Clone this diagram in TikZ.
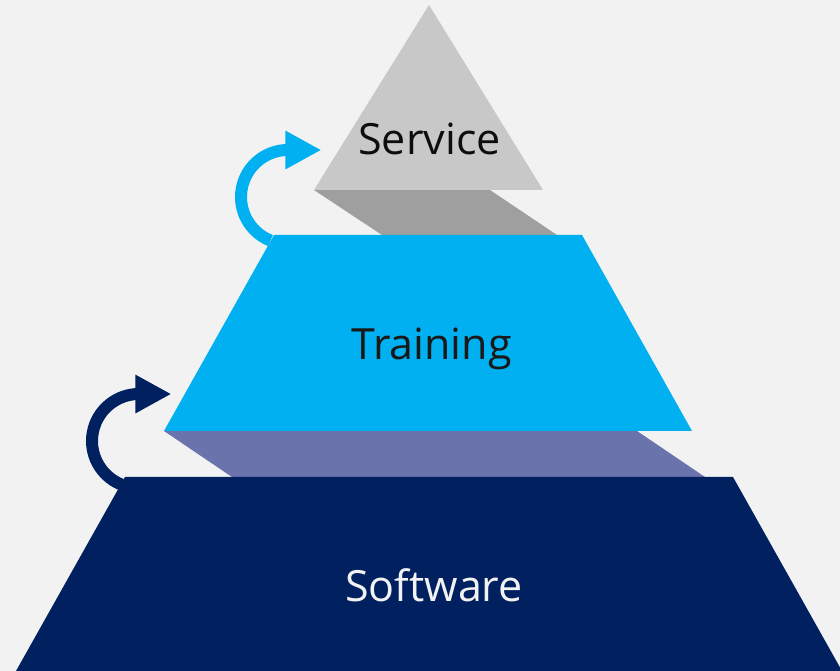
\documentclass[tikz,border=0pt]{standalone}
\usepackage{fontspec}
\setmainfont{Open Sans}
\usetikzlibrary{arrows.meta}

\definecolor{bgcol}{HTML}{F2F2F2}
\definecolor{servicecol}{HTML}{C8C8C8}
\definecolor{serviceshade}{HTML}{9F9F9F}
\definecolor{trainingcol}{HTML}{00B0F0}
\definecolor{trainingshade}{HTML}{6B73AD}
\definecolor{softwarecol}{HTML}{002060}

\begin{document}
\begin{tikzpicture}[x=1pt,y=1pt,
  label/.style={font=\fontsize{43}{50}\selectfont,anchor=base,inner sep=0pt},
  steparrow/.style={line width=12pt,-{Triangle[length=36pt,width=36pt]}}]

% ( background, same size as the reference )
\useasboundingbox[fill=bgcol] (0,0) rectangle (840,671);

% ( the arrows go first, their lower ends hide behind the steps )
\draw[steparrow,trainingcol] (288,474) ++(248:47) arc[start angle=248,end angle=92,radius=47] -- ++(35,0);
\draw[steparrow,softwarecol] (139,230) ++(248:47) arc[start angle=248,end angle=92,radius=47] -- ++(34,0);

% ( top: Service )
\path[shape=coordinate]
(429,666) coordinate(s1) (314,481) coordinate(s2) (543,481) coordinate(s3)
(490,481) coordinate(s4) (557,436) coordinate(s5) (382,436) coordinate(s6);
\fill[serviceshade] (s2) -- (s4) -- (s5) -- (s6) -- cycle;
\fill[servicecol] (s1) -- (s2) -- (s3) -- cycle;

% ( middle: Training )
\path[shape=coordinate]
(274,436) coordinate(t1) (582,436) coordinate(t2)
(692,240) coordinate(t3) (164,240) coordinate(t4)
(637,240) coordinate(t5) (705,194) coordinate(t6) (232,194) coordinate(t7);
\fill[trainingshade] (t4) -- (t5) -- (t6) -- (t7) -- cycle;
\fill[trainingcol] (t1) -- (t2) -- (t3) -- (t4) -- cycle;

% ( bottom: Software )
\path[shape=coordinate]
(125,194) coordinate(w1) (733,194) coordinate(w2)
(842,0) coordinate(w3) (16,0) coordinate(w4);
\fill[softwarecol] (w1) -- (w2) -- (w3) -- (w4) -- cycle;

% ( texts )
\node[label,text=black!95] (service) at (429.5,516) {Service};
\node[label,text=black!90] (training) at (431.5,311) {Training};
\node[label,text=bgcol] (software) at (434,69) {Software};
\end{tikzpicture}
\end{document}
